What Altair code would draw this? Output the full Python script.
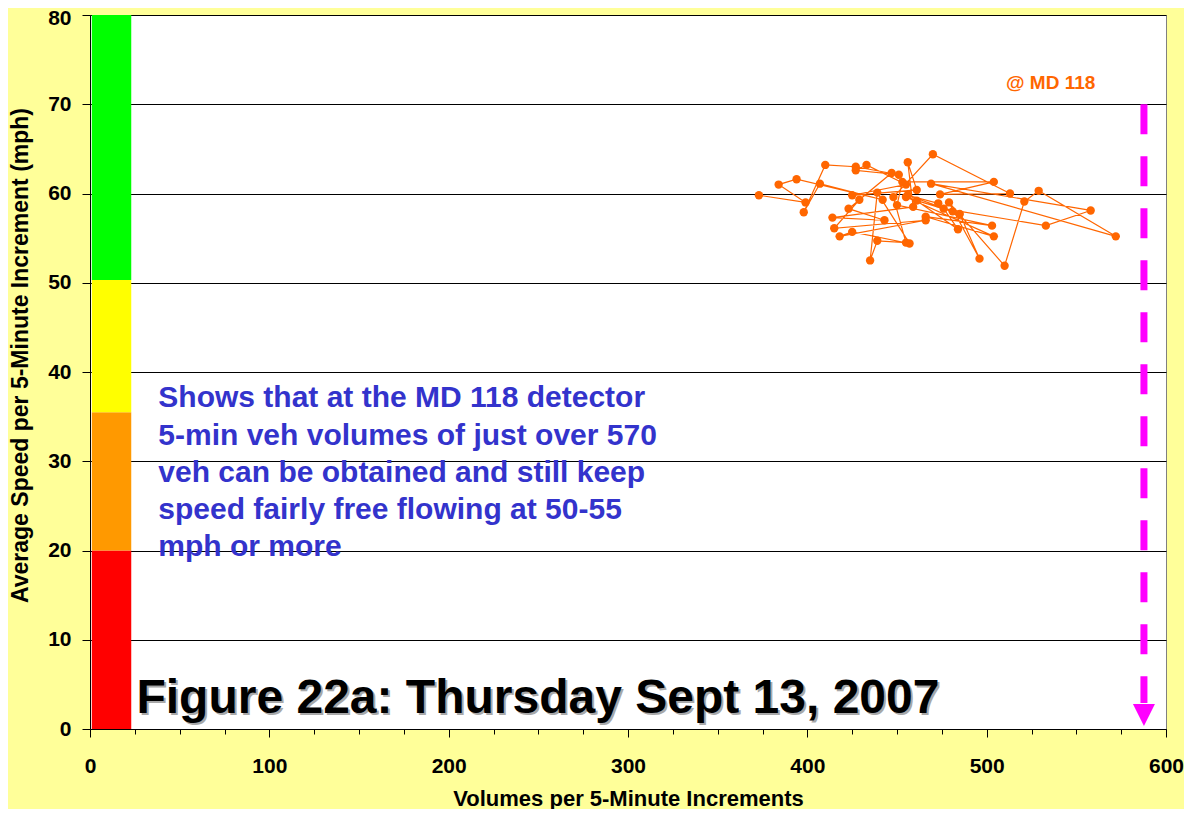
import altair as alt
import pandas as pd

# ---- data ----
volumes = [373, 399, 384, 394, 442, 407, 398, 410, 427, 451, 427, 433, 455, 425, 461,
           456, 459, 414, 443, 423, 447, 429, 415, 466, 418, 425, 457, 439, 435, 439,
           455, 448, 470, 513, 474, 504, 453, 450, 503, 466, 504, 455, 485, 496, 479,
           510, 521, 529, 572, 469, 558, 533, 476, 484, 461, 481, 456, 473]
speeds = [59.8, 59.0, 61.0, 61.6, 59.3, 61.1, 57.9, 63.2, 63.0, 62.1, 62.6, 63.2, 61.0, 59.8, 60.4,
          63.5, 58.5, 57.3, 57.0, 58.3, 62.3, 59.3, 56.1, 57.0, 55.2, 55.7, 54.4, 60.1, 52.5, 54.7,
          54.5, 59.6, 64.4, 60.0, 59.9, 61.3, 61.3, 58.7, 56.4, 57.4, 55.2, 59.6, 57.7, 52.7, 59.0,
          51.9, 59.1, 60.3, 55.2, 61.1, 58.1, 56.4, 58.3, 56.0, 59.2, 58.0, 59.8, 58.9]

band_low = [0, 20, 35.5, 50.3]
band_high = [20, 35.5, 50.3, 80]
band_colors = ["#FF0000", "#FF9900", "#FFFF00", "#00FF00"]
band_x = [1, 23]

limit_volume = 587.7
limit_top = 70
limit_bottom = 2.9
arrow_speed = 1.57

note_lines = ["Shows that at the MD 118 detector",
              "5-min veh volumes of just over 570",
              "veh can be obtained and still keep",
              "speed fairly free flowing at 50-55",
              "mph or more"]
note_x = 38.1
note_y = [36.08, 31.82, 27.71, 23.53, 19.42]

fig_title = "Figure 22a: Thursday Sept 13, 2007"
fig_x = 25.9
fig_y = 1.83

site_label = "@ MD 118"
site_x = 535.7
site_y = 71.67

x_major = [0, 100, 200, 300, 400, 500, 600]
x_minor = [v for v in range(0, 601, 25) if v % 100 != 0]
y_ticks = [0, 10, 20, 30, 40, 50, 60, 70, 80]

FONT = "Liberation Sans"

xs = alt.Scale(domain=[0, 600], nice=False, zero=False)
ys = alt.Scale(domain=[0, 80], nice=False, zero=False)

pts = pd.DataFrame({"idx": list(range(len(volumes))), "x": volumes, "y": speeds})
bands = pd.DataFrame({"x": [band_x[0]] * 4, "x2": [band_x[1]] * 4,
                      "y": band_low, "y2": band_high, "c": band_colors})

main_x = alt.X("x:Q", scale=xs, axis=alt.Axis(
    orient="bottom", values=x_major, title="Volumes per 5-Minute Increments", grid=False,
    labelFont=FONT, labelFontSize=21, labelFontWeight="bold", labelColor="black",
    labelPadding=18, labelFlush=False, labelOverlap=False,
    tickColor="black", tickSize=8, tickWidth=1, domainColor="black", domainWidth=1,
    titleFont=FONT, titleFontSize=22, titleFontWeight="bold", titleColor="black",
    titleY=76, titleBaseline="alphabetic"))
main_y = alt.Y("y:Q", scale=ys, axis=alt.Axis(
    values=y_ticks, title="Average Speed per 5-Minute Increment (mph)", grid=True,
    gridColor="black", gridWidth=1,
    labelFont=FONT, labelFontSize=21, labelFontWeight="bold", labelColor="black",
    labelPadding=11, labelOverlap=False,
    labelOffset=alt.condition("datum.value == 80", alt.value(3), alt.value(0)),
    tickColor="black", tickSize=8, tickWidth=1, domainColor="black", domainWidth=1,
    titleFont=FONT, titleFontSize=23, titleFontWeight="bold", titleColor="black",
    titleX=-63, titleY=340, titleBaseline="alphabetic", titleAngle=270))

plain_y = alt.Y("y:Q", scale=ys)

line = alt.Chart(pts).mark_line(color="#FF6600", strokeWidth=1.2).encode(
    x=main_x, y=main_y, order="idx:Q")

band_layer = alt.Chart(bands).mark_rect().encode(
    x=alt.X("x:Q", scale=xs, axis=alt.Axis(orient="bottom", values=x_minor, labels=False,
                                           domain=False, grid=False, ticks=True, tickSize=5,
                                           tickColor="black", title=None)),
    x2="x2:Q",
    y=plain_y, y2="y2:Q",
    color=alt.Color("c:N", scale=None))

nx = alt.X("x:Q", scale=xs, axis=None)

dots = alt.Chart(pts).mark_circle(color="#FF6600", size=70, opacity=1).encode(
    x=nx, y=plain_y)

limit_df = pd.DataFrame({"x": [limit_volume], "y": [limit_top], "y2": [limit_bottom]})
limit_rule = alt.Chart(limit_df).mark_rule(color="#FF00FF", strokeWidth=7,
                                           strokeDash=[30, 22]).encode(
    x=nx, y=plain_y, y2="y2:Q")

arrow_df = pd.DataFrame({"x": [limit_volume], "y": [arrow_speed]})
arrow = alt.Chart(arrow_df).mark_point(shape="M-1,-1L1,-1L0,1Z", filled=True, size=484,
                                       color="#FF00FF", opacity=1, strokeWidth=0).encode(
    x=nx, y=plain_y)

note_df = pd.DataFrame({"x": [note_x] * len(note_lines), "y": note_y, "t": note_lines})
note = alt.Chart(note_df).mark_text(font=FONT, fontSize=30, fontWeight="bold",
                                    color="#3333CC", align="left",
                                    baseline="alphabetic").encode(
    x=nx, y=plain_y, text="t:N")

fig_df = pd.DataFrame({"x": [fig_x], "y": [fig_y], "t": [fig_title]})
fig_shadow = alt.Chart(fig_df).mark_text(font=FONT, fontSize=48, fontWeight="bold",
                                         color="#A8A8A8", align="left", dx=2, dy=2,
                                         baseline="alphabetic").encode(
    x=nx, y=plain_y, text="t:N")
fig_text = alt.Chart(fig_df).mark_text(font=FONT, fontSize=48, fontWeight="bold",
                                       color="black", align="left",
                                       baseline="alphabetic").encode(
    x=nx, y=plain_y, text="t:N")

site_df = pd.DataFrame({"x": [site_x], "y": [site_y], "t": [site_label]})
site = alt.Chart(site_df).mark_text(font=FONT, fontSize=19, fontWeight="bold",
                                    color="#FF6600", align="center",
                                    baseline="alphabetic").encode(
    x=nx, y=plain_y, text="t:N")

chart = alt.layer(
    line, band_layer, dots, limit_rule, arrow, note, fig_shadow, fig_text, site
).resolve_axis(x="independent").properties(
    width=1076, height=714,
    autosize=alt.AutoSizeParams(type="none"),
    padding={"left": 82, "top": 7, "right": 18, "bottom": 80},
    background="#FFFF99",
).configure_view(fill="white", stroke="#808080", strokeWidth=1)

chart.save("out.html", embed_options={"renderer": "svg", "actions": False})
